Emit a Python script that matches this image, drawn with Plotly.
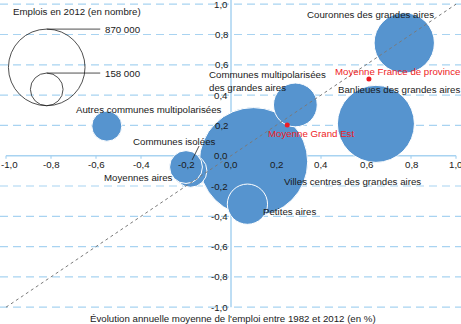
import plotly.graph_objects as go

# ---------------- data ----------------
categories = ["Villes centres des grandes aires", "Banlieues des grandes aires",
              "Couronnes des grandes aires", "Communes multipolarisées des grandes aires",
              "Petites aires", "Communes isolées", "Moyennes aires",
              "Autres communes multipolarisées"]
evol_emploi = [0.10, 0.644, 0.77, 0.286, 0.073, -0.18, -0.20, -0.552]   # x (%)
evol_other = [-0.04, 0.21, 0.744, 0.335, -0.32, -0.10, -0.075, 0.195]   # y (%)
emplois_2012 = [870000, 440000, 270000, 142000, 120000, 80000, 80000, 67000]

moyennes = ["Moyenne France de province", "Moyenne Grand Est"]
moy_x = [0.613, 0.25]
moy_y = [0.506, 0.203]

legend_sizes = [870000, 158000]
legend_labels = ["870 000", "158 000"]

tick_vals = [-1.0, -0.8, -0.6, -0.4, -0.2, 0.0, 0.2, 0.4, 0.6, 0.8, 1.0]
tick_labels = ["-1,0", "-0,8", "-0,6", "-0,4", "-0,2", "0,0", "0,2", "0,4", "0,6", "0,8", "1,0"]

x_title = "Évolution annuelle moyenne de l'emploi entre 1982 et 2012 (en %)"
legend_title = "Emplois en 2012 (en nombre)"

# ---------------- style ----------------
FONT = "Liberation Sans, Arial, sans-serif"
FS = 9.7
BLUE = "#5694cf"
GRID = "#a8d3f1"
RED = "#ee1c25"
TXT = "#1a1a1a"
MAX_DIAM = 76.6
sizeref = max(legend_sizes) / MAX_DIAM ** 2

fig = go.Figure()

# bubbles (largest first)
order = sorted(range(len(categories)), key=lambda i: -emplois_2012[i])
fig.add_trace(go.Scatter(
    x=[evol_emploi[i] for i in order], y=[evol_other[i] for i in order],
    mode="markers", text=[categories[i] for i in order],
    marker=dict(size=[emplois_2012[i] for i in order], sizemode="area", sizeref=sizeref,
                color=BLUE, opacity=1, line=dict(color="white", width=1)),
    hoverinfo="text", showlegend=False))

# diagonal y = x
fig.add_trace(go.Scatter(x=[tick_vals[0], tick_vals[-1]], y=[tick_vals[0], tick_vals[-1]],
                         mode="lines", line=dict(color="#7a7a7a", width=1, dash="dot"),
                         hoverinfo="skip", showlegend=False))

# red averages
fig.add_trace(go.Scatter(x=moy_x, y=moy_y, mode="markers", text=moyennes,
                         marker=dict(size=5, color=RED), hoverinfo="text", showlegend=False))

shapes = []
# dashed grid lines
for v in tick_vals:
    if v == 0:
        continue
    shapes.append(dict(type="line", xref="paper", x0=0, x1=1, yref="y", y0=v, y1=v,
                       line=dict(color=GRID, width=1.2, dash="8px,5px"), layer="below"))
# axes
shapes.append(dict(type="line", xref="x", x0=0, x1=0, yref="y", y0=tick_vals[0], y1=1.03,
                   line=dict(color=GRID, width=1.5), layer="below"))
shapes.append(dict(type="line", xref="x", x0=tick_vals[0], x1=tick_vals[-1], yref="y", y0=0, y1=0,
                   line=dict(color=GRID, width=1.5), layer="below"))
# small ticks
for v in tick_vals:
    shapes.append(dict(type="line", xref="x", x0=v, x1=v, yref="y", ysizemode="pixel",
                       yanchor=0, y0=0, y1=-3, line=dict(color=GRID, width=1.2), layer="below"))

# legend circles (bottom aligned), in pixels around an anchor
leg_x, leg_y = -0.819, 0.33
for s in legend_sizes:
    r = (s / sizeref) ** 0.5 / 2
    shapes.append(dict(type="circle", xref="x", yref="y", xsizemode="pixel", ysizemode="pixel",
                       xanchor=leg_x, yanchor=leg_y, x0=-r, x1=r, y0=0, y1=2 * r,
                       line=dict(color="#222", width=0.8), fillcolor="rgba(0,0,0,0)"))
    shapes.append(dict(type="line", xref="x", yref="y", xsizemode="pixel", ysizemode="pixel",
                       xanchor=leg_x, yanchor=leg_y, x0=0, x1=53.5, y0=2 * r, y1=2 * r,
                       line=dict(color="#222", width=0.8)))

# leader line for Communes isolées
shapes.append(dict(type="line", xref="x", yref="y", x0=-0.142, y0=0.064, x1=-0.173, y1=-0.028,
                   line=dict(color="#222", width=0.8)))

annotations = []
def ann(text, x, y, color=TXT, xanchor="center", xref="x", yref="y", **kw):
    annotations.append(dict(text=text, x=x, y=y, xref=xref, yref=yref, showarrow=False,
                            xanchor=xanchor, yanchor="middle",
                            font=dict(family=FONT, size=FS, color=color), **kw))

# tick labels
for k, (v, t) in enumerate(zip(tick_vals, tick_labels)):
    xa, xs = "center", 0
    if k == 0:
        xa, xs = "left", -7
    annotations.append(dict(text=t, x=v, y=0, xref="x", yref="y", showarrow=False,
                            xanchor=xa, xshift=xs, yanchor="top", yshift=-1,
                            font=dict(family=FONT, size=FS, color=TXT)))
    annotations.append(dict(text=t, x=0, y=v, xref="x", yref="y", showarrow=False,
                            xanchor="right", yanchor="middle", xshift=-1,
                            font=dict(family=FONT, size=FS, color=TXT)))

label_pos = {
    "Couronnes des grandes aires": (0.622, 0.929, "center"),
    "Banlieues des grandes aires": (0.745, 0.438, "center"),
    "Communes multipolarisées des grandes aires": (-0.108, 0.495, "left"),
    "Autres communes multipolarisées": (-0.364, 0.302, "center"),
    "Communes isolées": (-0.249, 0.092, "center"),
    "Moyennes aires": (-0.409, -0.147, "center"),
    "Villes centres des grandes aires": (0.542, -0.172, "center"),
    "Petites aires": (0.262, -0.365, "center"),
}
for c in categories:
    x, y, xa = label_pos[c]
    txt = c.replace("multipolarisées des", "multipolarisées<br>des") if xa == "left" else c
    ann(txt, x, y, xanchor=xa, align="left")

moy_pos = [(0.742, 0.559), (0.356, 0.148)]
for m, (x, y) in zip(moyennes, moy_pos):
    ann(m, x, y, color=RED)

ann(legend_title, -0.976, 0.955, xanchor="left")
for s, lab in zip(legend_sizes, legend_labels):
    r = (s / sizeref) ** 0.5 / 2
    annotations.append(dict(text=lab, x=leg_x, y=leg_y, xref="x", yref="y", showarrow=False,
                            xanchor="left", yanchor="middle", xshift=56, yshift=2 * r,
                            font=dict(family=FONT, size=FS, color=TXT)))

ann(x_title, 0.505, 0.0176, xref="paper", yref="paper")

fig.update_layout(
    width=461, height=324, margin=dict(l=0, r=0, t=0, b=0),
    paper_bgcolor="white", plot_bgcolor="white",
    xaxis=dict(range=[-1.0267, 1.0222], visible=False, fixedrange=True),
    yaxis=dict(range=[-1.1109, 1.0277], visible=False, fixedrange=True),
    shapes=shapes, annotations=annotations, showlegend=False,
)

fig.write_html("out.html")
